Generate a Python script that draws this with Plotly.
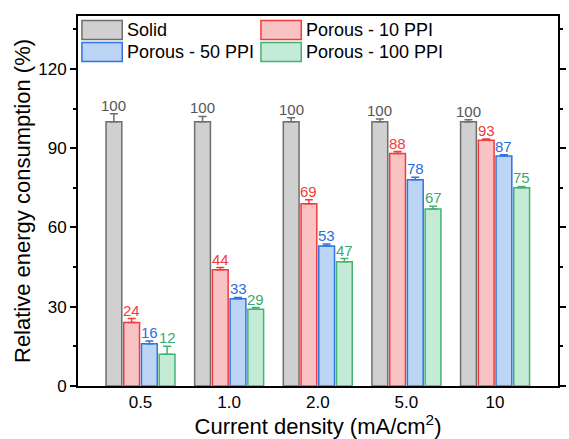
import plotly.graph_objects as go

categories = ["0.5", "1.0", "2.0", "5.0", "10"]
series_names = ["Solid", "Porous - 10 PPI", "Porous - 50 PPI", "Porous - 100 PPI"]
solid = [100, 100, 100, 100, 100]
ppi10 = [24, 44, 69, 88, 93]
ppi50 = [16, 33, 53, 78, 87]
ppi100 = [12, 29, 47, 67, 75]
solid_err = [3.0, 2.0, 1.5, 1.0, 0.7]
ppi10_err = [1.5, 0.8, 1.5, 0.7, 0.5]
ppi50_err = [1.0, 0.5, 0.7, 1.0, 0.5]
ppi100_err = [3.0, 0.7, 1.2, 1.0, 0.5]

values = [solid, ppi10, ppi50, ppi100]
errors = [solid_err, ppi10_err, ppi50_err, ppi100_err]
fills = ["#d0d0d0", "#f9c3c3", "#bcd5f5", "#c4ebd5"]
lines = ["#6e6e6e", "#f03c3c", "#2f74e0", "#45b273"]
text_colors = ["#555555", "#f03c3c", "#2a6ee0", "#3aaa6a"]

FONT = "Arial, Liberation Sans, sans-serif"
BARGAP = 0.2
fig = go.Figure()
xi = list(range(len(categories)))
for j, name in enumerate(series_names):
    fig.add_trace(go.Bar(
        x=xi, y=values[j], name=name,
        marker=dict(color=fills[j], line=dict(color=lines[j], width=1.5)),
        error_y=dict(type="data", array=errors[j], arrayminus=[0]*len(xi),
                     symmetric=False, color=lines[j], thickness=1.5, width=4),
        showlegend=False,
    ))

# value labels above error bars
slot = (1 - BARGAP) / len(series_names)
annotations = []
for j in range(len(series_names)):
    for i in xi:
        annotations.append(dict(
            x=i + (j - 1.5) * slot, y=values[j][i] + errors[j][i],
            xref="x", yref="y", text=str(values[j][i]), showarrow=False,
            yanchor="bottom", yshift=-2,
            font=dict(family=FONT, size=15, color=text_colors[j]),
        ))

# custom legend
L, R, T, B = 78, 566, 15.5, 386.5
def px(x):
    return (x - L) / (R - L)
def py(y):
    return (B - y) / (B - T)

shapes = []
leg_pos = [(82, 20), (264, 20), (82, 42), (264, 42)]
for j, (x0, y0) in enumerate(leg_pos):
    shapes.append(dict(type="rect", xref="paper", yref="paper",
                       x0=px(x0), x1=px(x0 + 41), y0=py(y0), y1=py(y0 + 19),
                       fillcolor=fills[j], line=dict(color=lines[j], width=1.5)))
    annotations.append(dict(x=px(x0 + 44), y=py(y0 + 10), xref="paper", yref="paper",
                            text=series_names[j], showarrow=False, xanchor="left",
                            yanchor="middle", font=dict(family=FONT, size=18, color="black")))

fig.update_layout(
    width=569, height=439,
    margin=dict(l=78, r=3, t=15.5, b=52.5),
    paper_bgcolor="white", plot_bgcolor="white",
    barmode="group", bargap=BARGAP, bargroupgap=0.11,
    font=dict(family=FONT, size=17, color="black"),
    annotations=annotations, shapes=shapes,
    xaxis=dict(
        tickmode="array", tickvals=xi, ticktext=categories,
        range=[-0.705, 4.71], showline=True, linecolor="black", linewidth=2,
        mirror=True, ticks="", showgrid=False, zeroline=False,
        tickfont=dict(size=17),
        title=dict(text="Current density (mA/cm<sup>2</sup>)", font=dict(size=22), standoff=4),
    ),
    yaxis=dict(
        range=[0, 140], tickvals=[0, 30, 60, 90, 120], showline=True, linecolor="black",
        linewidth=2, mirror="ticks", ticks="outside", ticklen=6, tickwidth=1.5,
        tickcolor="black", showgrid=False, zeroline=False, tickfont=dict(size=17),
        minor=dict(dtick=15, tick0=0, ticks="outside", ticklen=3, tickwidth=1.5, tickcolor="black"),
        title=dict(text="Relative energy consumption (%)", font=dict(size=22), standoff=2),
    ),
)
fig.write_html("out.html")
